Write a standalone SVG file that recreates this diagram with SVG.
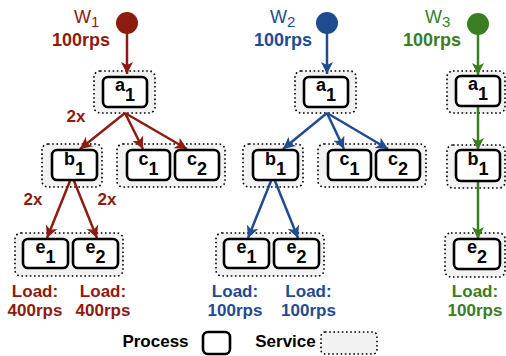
<svg xmlns="http://www.w3.org/2000/svg" width="506" height="356" viewBox="0 0 506 356">
<style>
.svc{fill:#f2f2f2;stroke:#000;stroke-width:1.6;stroke-dasharray:1.6 2.6}
.proc{fill:#fff;stroke:#000;stroke-width:2.6}
.pt{font-family:"Liberation Sans",Arial,sans-serif;font-weight:bold;font-size:18px;fill:#000;text-anchor:middle}
.lbl{font-family:"Liberation Sans",Arial,sans-serif;font-weight:bold;font-size:17px;text-anchor:middle}
.top{font-family:"Liberation Sans",Arial,sans-serif;font-size:18px}
.sub{font-size:15px}
.r{fill:#8c1b10}.b{fill:#1f4c8f}.g{fill:#3b7d22}
.lr{stroke:#8c1b10;stroke-width:2.5;fill:none;marker-end:url(#ar)}
.lb{stroke:#1f4c8f;stroke-width:2.5;fill:none;marker-end:url(#ab)}
.lg{stroke:#3b7d22;stroke-width:2.5;fill:none;marker-end:url(#ag)}
</style>
<defs>
<marker id="ar" markerUnits="userSpaceOnUse" markerWidth="13" markerHeight="12" refX="12" refY="6" orient="auto"><path d="M0,0 L12,6 L0,12 L3,6 z" fill="#8c1b10"/></marker>
<marker id="ab" markerUnits="userSpaceOnUse" markerWidth="13" markerHeight="12" refX="12" refY="6" orient="auto"><path d="M0,0 L12,6 L0,12 L3,6 z" fill="#1f4c8f"/></marker>
<marker id="ag" markerUnits="userSpaceOnUse" markerWidth="13" markerHeight="12" refX="12" refY="6" orient="auto"><path d="M0,0 L12,6 L0,12 L3,6 z" fill="#3b7d22"/></marker>
</defs>

<!-- services -->
<g id="services">
<rect class="svc" x="94" y="71" width="61" height="42" rx="6"/>
<rect class="svc" x="42" y="144" width="60" height="43" rx="6"/>
<rect class="svc" x="117" y="144" width="108" height="43" rx="6"/>
<rect class="svc" x="15" y="233" width="108" height="43" rx="6"/>
<rect class="svc" x="295" y="71" width="61" height="42" rx="6"/>
<rect class="svc" x="243" y="144" width="60" height="43" rx="6"/>
<rect class="svc" x="318" y="144" width="108" height="43" rx="6"/>
<rect class="svc" x="216" y="233" width="108" height="43" rx="6"/>
<rect class="svc" x="447" y="71" width="58" height="42" rx="6"/>
<rect class="svc" x="447" y="145" width="58" height="43" rx="6"/>
<rect class="svc" x="445" y="233" width="60" height="44" rx="6"/>
</g>

<!-- workload sources -->
<g id="w1">
<circle cx="127" cy="23" r="11" class="r"/>
<text class="top r" x="74" y="23">W<tspan class="sub" dy="4">1</tspan></text>
<text class="top r" x="52" y="46" font-weight="bold">100rps</text>
</g>
<g id="w2">
<circle cx="327" cy="23" r="11" class="b"/>
<text class="top b" x="270" y="23">W<tspan class="sub" dy="4">2</tspan></text>
<text class="top b" x="254" y="46" font-weight="bold">100rps</text>
</g>
<g id="w3">
<circle cx="478" cy="24" r="11" class="g"/>
<text class="top g" x="425" y="23">W<tspan class="sub" dy="4">3</tspan></text>
<text class="top g" x="403" y="46" font-weight="bold">100rps</text>
</g>

<!-- connectors -->
<g id="connectors">
<line class="lr" x1="127" y1="33" x2="127" y2="74"/>
<line class="lr" x1="125" y1="113" x2="80" y2="149"/>
<line class="lr" x1="125" y1="113" x2="143" y2="149"/>
<line class="lr" x1="125" y1="113" x2="187" y2="149"/>
<line class="lr" x1="72" y1="176" x2="47" y2="238"/>
<line class="lr" x1="72" y1="176" x2="97" y2="238"/>

<line class="lb" x1="327" y1="33" x2="327" y2="74"/>
<line class="lb" x1="327" y1="113" x2="283" y2="149"/>
<line class="lb" x1="327" y1="113" x2="344" y2="149"/>
<line class="lb" x1="327" y1="113" x2="388" y2="149"/>
<line class="lb" x1="273" y1="176" x2="248" y2="238"/>
<line class="lb" x1="273" y1="176" x2="298" y2="238"/>

<line class="lg" x1="478" y1="34" x2="478" y2="75"/>
<line class="lg" x1="478" y1="106" x2="478" y2="150"/>
<line class="lg" x1="478" y1="181" x2="478" y2="239"/>
</g>

<!-- processes -->
<g id="a1_w1"><rect class="proc" x="103" y="77" width="44" height="30" rx="5"/><text class="pt" x="125" y="91">a<tspan dy="10">1</tspan></text></g>
<g id="b1_w1"><rect class="proc" x="52" y="150" width="45" height="30" rx="5"/><text class="pt" x="74.5" y="165">b<tspan dy="10">1</tspan></text></g>
<g id="c1_w1"><rect class="proc" x="127" y="150" width="43" height="30" rx="5"/><text class="pt" x="148.5" y="165">c<tspan dy="10">1</tspan></text></g>
<g id="c2_w1"><rect class="proc" x="175" y="150" width="44" height="30" rx="5"/><text class="pt" x="197" y="165">c<tspan dy="10">2</tspan></text></g>
<g id="e1_w1"><rect class="proc" x="23" y="239" width="45" height="29" rx="5"/><text class="pt" x="45.5" y="253">e<tspan dy="10">1</tspan></text></g>
<g id="e2_w1"><rect class="proc" x="73" y="239" width="45" height="29" rx="5"/><text class="pt" x="95.5" y="253">e<tspan dy="10">2</tspan></text></g>

<g id="a1_w2"><rect class="proc" x="304" y="77" width="44" height="30" rx="5"/><text class="pt" x="326" y="91">a<tspan dy="10">1</tspan></text></g>
<g id="b1_w2"><rect class="proc" x="253" y="150" width="45" height="30" rx="5"/><text class="pt" x="275.5" y="165">b<tspan dy="10">1</tspan></text></g>
<g id="c1_w2"><rect class="proc" x="328" y="150" width="43" height="30" rx="5"/><text class="pt" x="349.5" y="165">c<tspan dy="10">1</tspan></text></g>
<g id="c2_w2"><rect class="proc" x="376" y="150" width="44" height="30" rx="5"/><text class="pt" x="398" y="165">c<tspan dy="10">2</tspan></text></g>
<g id="e1_w2"><rect class="proc" x="224" y="239" width="45" height="29" rx="5"/><text class="pt" x="246.5" y="253">e<tspan dy="10">1</tspan></text></g>
<g id="e2_w2"><rect class="proc" x="274" y="239" width="45" height="29" rx="5"/><text class="pt" x="296.5" y="253">e<tspan dy="10">2</tspan></text></g>

<g id="a1_w3"><rect class="proc" x="456" y="76" width="44" height="30" rx="5"/><text class="pt" x="478" y="90">a<tspan dy="10">1</tspan></text></g>
<g id="b1_w3"><rect class="proc" x="456" y="150" width="44" height="31" rx="5"/><text class="pt" x="478" y="165">b<tspan dy="10">1</tspan></text></g>
<g id="e2_w3"><rect class="proc" x="454" y="239" width="46" height="30" rx="5"/><text class="pt" x="477" y="253">e<tspan dy="10">2</tspan></text></g>

<!-- labels -->
<g id="labels">
<text class="lbl r" x="76" y="122">2x</text>
<text class="lbl r" x="33" y="205">2x</text>
<text class="lbl r" x="107" y="205">2x</text>
<text class="lbl r" x="35" y="297">Load:</text>
<text class="lbl r" x="35" y="316">400rps</text>
<text class="lbl r" x="103" y="297">Load:</text>
<text class="lbl r" x="103" y="316">400rps</text>
<text class="lbl b" x="235" y="297">Load:</text>
<text class="lbl b" x="235" y="316">100rps</text>
<text class="lbl b" x="308.5" y="297">Load:</text>
<text class="lbl b" x="308.5" y="316">100rps</text>
<text class="lbl g" x="475" y="297">Load:</text>
<text class="lbl g" x="475" y="316">100rps</text>
</g>

<!-- legend -->
<g id="legend">
<text class="lbl" x="155.5" y="347" fill="#000">Process</text>
<rect class="proc" x="203" y="332" width="27" height="22" rx="5"/>
<text class="lbl" x="285.5" y="347" fill="#000">Service</text>
<rect class="svc" x="321" y="332" width="56" height="22" rx="4"/>
</g>
</svg>
